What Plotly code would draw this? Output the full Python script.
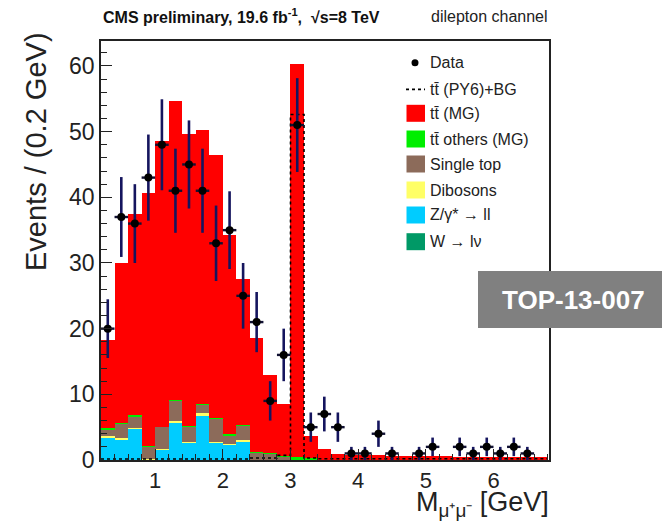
import plotly.graph_objects as go

# ---------------- data ----------------
bin_centers = [0.3, 0.5, 0.7, 0.9, 1.1, 1.3, 1.5, 1.7, 1.9, 2.1, 2.3, 2.5, 2.7, 2.9,
               3.1, 3.3, 3.5, 3.7, 3.9, 4.1, 4.3, 4.5, 4.7, 4.9, 5.1, 5.3, 5.5, 5.7,
               5.9, 6.1, 6.3, 6.5, 6.7]
bin_width = 0.2

w_lnu = [0, 0, 0, 0, 0, 0, 0, 0, 0, 0, 0, 0, 0, 0, 0, 0, 0,
         0, 0, 0, 0, 0, 0, 0, 0, 0, 0, 0, 0, 0, 0, 0, 0]
z_gamma = [3.4, 3.1, 4.8, 0.0, 1.6, 5.7, 2.6, 6.8, 2.6, 2.4, 2.8, 0, 0, 0,
           0, 0, 0, 0, 0, 0, 0, 0, 0, 0, 0, 0, 0, 0, 0, 0, 0, 0, 0]
dibosons = [0.3, 0.2, 0.1, 0.1, 0.1, 0.3, 0.1, 0.3, 0.2, 0.1, 0.2, 0, 0, 0,
            0, 0, 0, 0, 0, 0, 0, 0, 0, 0, 0, 0, 0, 0, 0, 0, 0, 0, 0]
single_top = [1.0, 2.2, 1.7, 1.9, 3.3, 3.0, 2.4, 1.4, 3.5, 1.3, 2.3, 1.1, 1.0, 0.5,
              0.1, 0.05, 0, 0, 0, 0, 0, 0, 0, 0, 0, 0, 0, 0, 0, 0, 0, 0, 0]
tt_others = [0.1, 0.1, 0.2, 0.1, 0.0, 0.1, 0.1, 0.1, 0.1, 0.2, 0.1, 0.05, 0.05, 0.05,
             0.3, 0.2, 0, 0, 0, 0, 0, 0, 0, 0, 0, 0, 0, 0, 0, 0, 0, 0, 0]
tt_mg = [13.5, 24.4, 30.7, 38.6, 43.5, 45.5, 44.4, 41.7, 40.1, 30.2, 22.2, 17.45, 11.95, 7.95,
         59.9, 3.4, 1.6, 0.9, 0.8, 0.75, 0.7, 0.65, 0.6, 0.6, 0.55, 0.55, 0.5, 0.5,
         0.5, 0.45, 0.45, 0.45, 0.45]
py6_bg = [0.15, 0.15, 0.15, 0.15, 0.15, 0.15, 0.15, 0.15, 0.15, 0.15, 0.15, 0.3, 0.3, 0.7,
          52.6, 0.3, 0.2, 0.2, 0.2, 0.2, 0.2, 0.2, 0.2, 0.2, 0.2, 0.2, 0.2, 0.2,
          0.2, 0.2, 0.2, 0.2, 0.2]
data_counts = [20, 37, 36, 43, 48, 41, 45, 41, 33, 35, 25, 21, 9, 16,
               51, 5, 7, 5, 1, 1, 4, 1, 0, 1, 2, 0, 2, 1, 2, 1, 2, 1, 0]

x_tick_vals = [1, 2, 3, 4, 5, 6]
y_tick_vals = [0, 10, 20, 30, 40, 50, 60]

# ---------------- figure ----------------
W, H = 662, 521
ML, MR, MT, MB = 101, 113, 41, 61
PW, PH = W - ML - MR, H - MT - MB
FONT = "Liberation Sans, Arial, Helvetica, sans-serif"


def px(xp):
    return (xp - ML) / PW


def py(yp):
    return (H - MB - yp) / PH


fig = go.Figure()

stack = [
    ("W → lν", w_lnu, "#009966"),
    ("Z/γ* → ll", z_gamma, "#00ccff"),
    ("Dibosons", dibosons, "#ffff66"),
    ("Single top", single_top, "#8c6b5a"),
    ("tt̄ others (MG)", tt_others, "#00ee00"),
    ("tt̄ (MG)", tt_mg, "#ff0000"),
]
for name, vals, col in stack:
    fig.add_trace(go.Bar(x=bin_centers, y=vals, width=bin_width, name=name,
                         marker=dict(color=col, line=dict(width=0)),
                         showlegend=False, hoverinfo="skip"))

edges = [c - bin_width / 2 for c in bin_centers] + [bin_centers[-1] + bin_width / 2]
fig.add_trace(go.Scatter(x=edges, y=py6_bg + [py6_bg[-1]], mode="lines",
                         line=dict(color="black", width=1.6, dash="dot", shape="hv"),
                         showlegend=False, hoverinfo="skip"))

dx = [c for c, n in zip(bin_centers, data_counts) if n > 0]
dy = [n for n in data_counts if n > 0]
derr = [n ** 0.5 for n in dy]
fig.add_trace(go.Scatter(x=dx, y=dy, mode="markers",
                         marker=dict(color="black", size=8, symbol="circle"),
                         error_y=dict(type="data", array=derr, visible=True,
                                      color="#15155e", thickness=2.6, width=0),
                         error_x=dict(type="constant", value=bin_width / 2, visible=True,
                                      color="#111133", thickness=2.4, width=0),
                         showlegend=False, hoverinfo="skip"))

fig.update_layout(
    width=W, height=H,
    margin=dict(l=ML, r=MR, t=MT, b=MB),
    paper_bgcolor="white", plot_bgcolor="white",
    barmode="stack", bargap=0,
    showlegend=False,
    font=dict(family=FONT, color="#222222"),
)
fig.update_xaxes(range=[0.2, 6.82], showgrid=False, zeroline=False,
                 showline=True, linecolor="#222222", linewidth=1.5, mirror=True,
                 ticks="inside", ticklen=11, tickwidth=1, tickcolor="#222222",
                 tickvals=x_tick_vals, tickfont=dict(size=22, family=FONT, color="#222222"),
                 minor=dict(ticks="inside", ticklen=6, dtick=0.2, tick0=0.2, tickcolor="#222222"))
fig.update_yaxes(range=[0, 63.8], showgrid=False, zeroline=False,
                 showline=True, linecolor="#222222", linewidth=1.5, mirror=True,
                 ticks="inside", ticklen=11, tickwidth=1, tickcolor="#222222",
                 tickvals=y_tick_vals, tickfont=dict(size=23, family=FONT, color="#222222"),
                 minor=dict(ticks="inside", ticklen=6, dtick=2, tickcolor="#222222"))

ann = []
shapes = []
# header
ann.append(dict(x=px(101), y=py(16), xref="paper", yref="paper", xanchor="left", yanchor="middle",
                text="<b>CMS preliminary, 19.6 fb<sup>-1</sup>,  √s=8 TeV</b>", showarrow=False,
                font=dict(size=16, family=FONT, color="#111111")))
ann.append(dict(x=px(550), y=py(17), xref="paper", yref="paper", xanchor="right", yanchor="middle",
                text="dilepton channel", showarrow=False,
                font=dict(size=16, family=FONT, color="#222222")))
# axis titles
ann.append(dict(x=px(36), y=py(152), xref="paper", yref="paper", xanchor="center", yanchor="middle",
                text="Events / (0.2 GeV)", textangle=-90, showarrow=False,
                font=dict(size=29, family=FONT, color="#222222")))
ann.append(dict(x=px(551), y=py(503.5), xref="paper", yref="paper", xanchor="right", yanchor="middle",
                text="M<sub>μ⁺μ⁻</sub> [GeV]", showarrow=False,
                font=dict(size=27, family=FONT, color="#222222")))

# legend
legend_rows = [
    ("Data", "dot", None, 62.7),
    ("tt̄ (PY6)+BG", "dash", None, 89.3),
    ("tt̄ (MG)", "box", "#ff0000", 113.3),
    ("tt̄ others (MG)", "box", "#00ee00", 139.0),
    ("Single top", "box", "#8c6b5a", 164.0),
    ("Dibosons", "box", "#ffff66", 190.0),
    ("Z/γ* → ll", "box", "#00ccff", 215.0),
    ("W → lν", "box", "#009966", 241.7),
]
for label, kind, col, yc in legend_rows:
    if kind == "dot":
        shapes.append(dict(type="circle", xref="paper", yref="paper",
                           x0=px(411.5), x1=px(418.5), y0=py(yc + 3.5), y1=py(yc - 3.5),
                           fillcolor="black", line=dict(width=0)))
    elif kind == "dash":
        shapes.append(dict(type="line", xref="paper", yref="paper",
                           x0=px(406), x1=px(425), y0=py(yc), y1=py(yc),
                           line=dict(color="black", width=1.8, dash="dot")))
    else:
        shapes.append(dict(type="rect", xref="paper", yref="paper",
                           x0=px(406.5), x1=px(425), y0=py(yc + 8.5), y1=py(yc - 8.5),
                           fillcolor=col, line=dict(width=0)))
    ann.append(dict(x=px(427.5), y=py(yc), xref="paper", yref="paper", xanchor="left",
                    yanchor="middle", text=label, showarrow=False,
                    font=dict(size=16, family=FONT, color="#222222")))

# TOP-13-007 badge
shapes.append(dict(type="rect", xref="paper", yref="paper",
                   x0=px(478), x1=px(664), y0=py(328), y1=py(271),
                   fillcolor="#808080", line=dict(width=0), layer="above"))
ann.append(dict(x=px(573), y=py(300), xref="paper", yref="paper", xanchor="center",
                yanchor="middle", text="<b>TOP-13-007</b>", showarrow=False,
                font=dict(size=26, family=FONT, color="white")))

fig.update_layout(annotations=ann, shapes=shapes)
fig.write_html("out.html")
